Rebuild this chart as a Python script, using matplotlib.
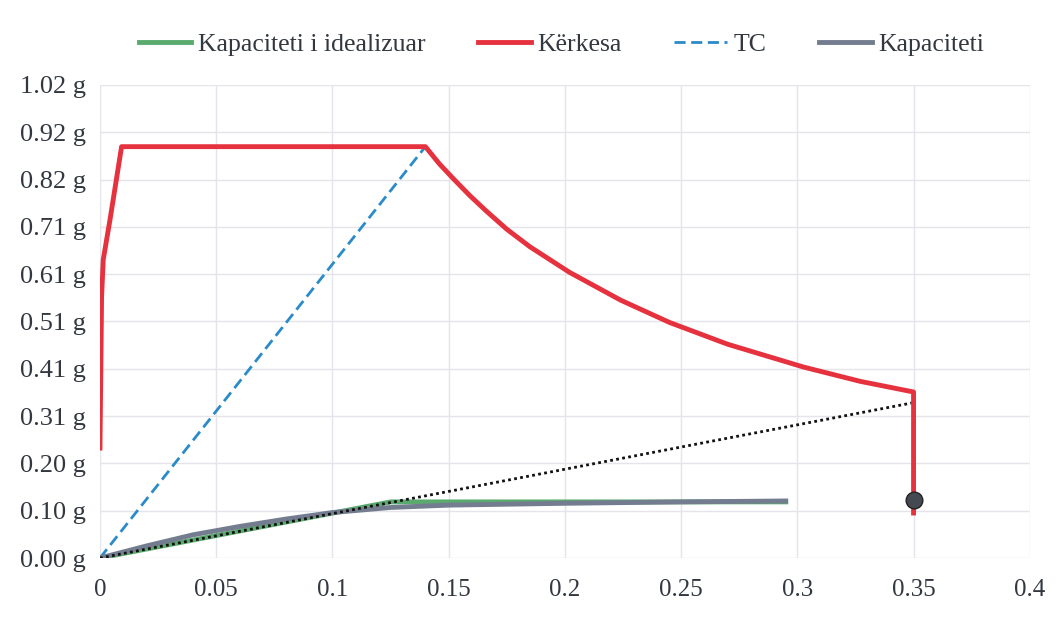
import numpy as np
import matplotlib
matplotlib.use("Agg")
import matplotlib.pyplot as plt

plt.rcParams['font.family'] = ['Liberation Serif', 'DejaVu Serif']

# Kërkesa (demand spectrum)
demand_x = [0.0, 0.0007, 0.0014, 0.0043, 0.0093, 0.14, 0.146, 0.152, 0.159, 0.166,
            0.175, 0.185, 0.202, 0.224, 0.245, 0.27, 0.3025, 0.327, 0.35, 0.35]
demand_y = [0.237, 0.5635, 0.643, 0.729, 0.887, 0.887, 0.850, 0.818, 0.782, 0.749,
            0.709, 0.671, 0.616, 0.556, 0.508, 0.461, 0.412, 0.381, 0.358, 0.097]

# Kapaciteti i idealizuar (bilinear)
ideal_x = [0.0, 0.125, 0.295]
ideal_y = [0.0, 0.121, 0.121]

# Kapaciteti (capacity curve)
cap_x = [0.0, 0.02, 0.04, 0.06, 0.08, 0.1, 0.125, 0.15, 0.2, 0.25, 0.295]
cap_y = [0.0, 0.026, 0.05, 0.068, 0.084, 0.098, 0.109, 0.114, 0.118, 0.121, 0.123]

# TC line
tc_x = [0.0, 0.14]
tc_y = [0.0, 0.887]

# dotted secant line and performance point
sec_x = [0.0, 0.35]
sec_y = [0.0, 0.335]
pp_x = [0.35]
pp_y = [0.125]

y_ticks = [i * 0.102 for i in range(11)]
y_labels = ["0.00 g", "0.10 g", "0.20 g", "0.31 g", "0.41 g", "0.51 g",
            "0.61 g", "0.71 g", "0.82 g", "0.92 g", "1.02 g"]
x_ticks = [0, 0.05, 0.1, 0.15, 0.2, 0.25, 0.3, 0.35, 0.4]
x_labels = ["0", "0.05", "0.1", "0.15", "0.2", "0.25", "0.3", "0.35", "0.4"]

fig = plt.figure(figsize=(10.59, 6.37), dpi=100)
ax = fig.add_axes([0.0944, 0.124, 0.878, 0.7426])

ax.plot(ideal_x, ideal_y, color="#5aaa6e", lw=3.5, label="Kapaciteti i idealizuar", zorder=3)
ax.plot(demand_x, demand_y, color="#e6323e", lw=3.5, label="Kërkesa", zorder=4)
ax.plot(tc_x, tc_y, color="#2a8bc8", lw=2, ls=(0, (4, 2)), label="TC", zorder=3)
ax.plot(cap_x, cap_y, color="#737d8f", lw=3.5, label="Kapaciteti", zorder=3.5)
ax.plot(sec_x, sec_y, color="#111111", lw=2, ls=(0, (1, 1.2)), zorder=3.6)
ax.plot(pp_x, pp_y, "o", ms=12, color="#454a52", mec="#222222", mew=1, zorder=5)

ax.set_xlim(0, 0.4)
ax.set_ylim(0, 1.02)
ax.set_xticks(x_ticks)
ax.set_xticklabels(x_labels)
ax.set_yticks(y_ticks)
ax.set_yticklabels(y_labels)
ax.tick_params(length=0, labelcolor="#333840")
ax.tick_params(axis="y", labelsize=19, pad=10)
ax.tick_params(axis="x", labelsize=18, pad=15)
ax.grid(True, color="#e4e4ea", lw=1)
ax.set_axisbelow(True)
for s in ax.spines.values():
    s.set_visible(False)

fig.legend(loc="upper center", bbox_to_anchor=(0.53, 0.985), ncol=4, frameon=False,
           fontsize=18.5, handlelength=2.05, columnspacing=2.05, handletextpad=0.25,
           labelcolor="#333840")

fig.savefig("out.png", dpi=100)
